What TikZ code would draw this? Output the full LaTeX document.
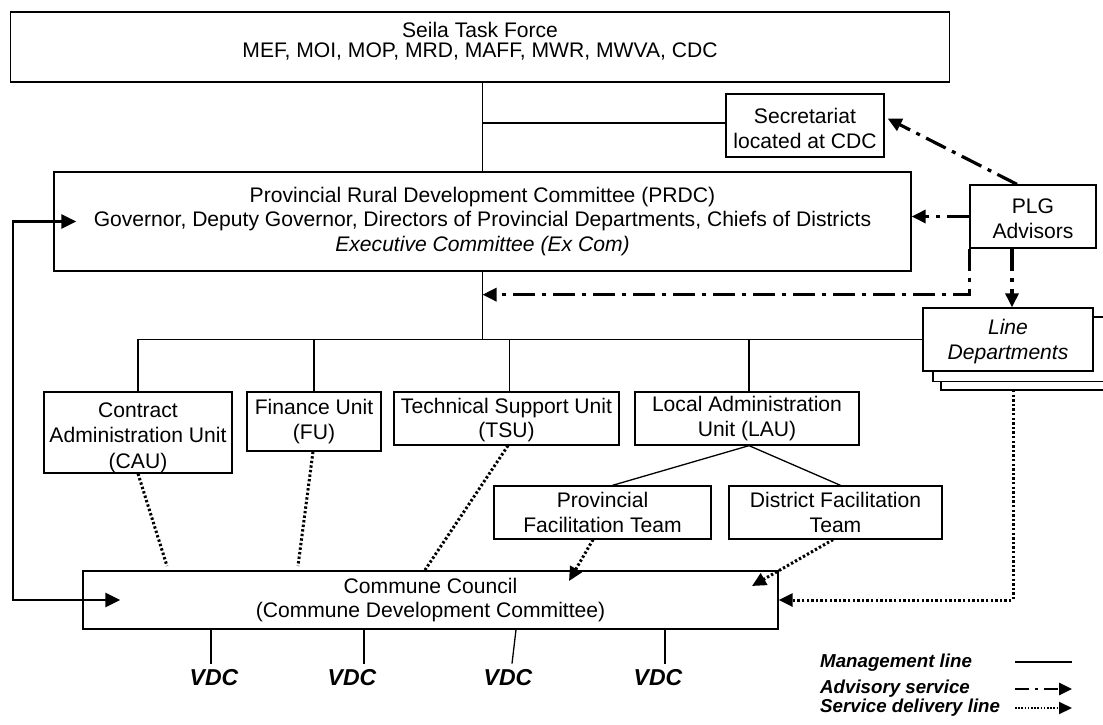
\documentclass[tikz,border=0pt]{standalone}
\usepackage{fontspec}
\setmainfont{Liberation Sans}
\usetikzlibrary{arrows.meta,calc}
\newcommand\dgfont{\fontsize{21.1}{24.5}\selectfont}
\newcommand\vdcfont{\fontsize{23}{26}\selectfont\bfseries\itshape}
\newcommand\lgfont{\fontsize{18.7}{20}\selectfont\bfseries\itshape}
\newcommand\lowerby[1]{\rule{0pt}{#1}}
\begin{document}
\begin{tikzpicture}[x=1pt,y=-1pt,
  box/.style={draw,line width=1.3pt,fill=white,align=center,inner sep=0pt,font=\dgfont},
  mgmt/.style={line width=1.3pt},
  tip/.style={-{Triangle[length=14pt,width=13pt]}},
  adv/.style={line width=3.2pt,dash pattern=on 22pt off 7pt on 4pt off 7pt,tip},
  svc/.style={line width=3pt,dash pattern=on 2.4pt off 2.2pt},
  svcarr/.style={svc,tip},
  mgarrow/.style={line width=2.8pt,{Triangle[length=15pt,width=14pt]}-{Triangle[length=15pt,width=14pt]}},
  vdc/.style={font=\vdcfont,inner sep=0pt},
  lgtext/.style={font=\lgfont,anchor=west,inner sep=0pt}]
\useasboundingbox (0,0) rectangle (1103,725);

% boxes
\node[box,minimum width=939,minimum height=70] (stf) at (480,47)
  {Seila Task Force\\[-4pt]MEF, MOI, MOP, MRD, MAFF, MWR, MWVA, CDC\rule[-14pt]{0pt}{14pt}};
\node[box,minimum width=158,minimum height=63] (sec) at (805,125.5)
  {\lowerby{21pt}Secretariat\\located at CDC};
\node[box,minimum width=857,minimum height=99] (prdc) at (482.5,221.5)
  {Provincial Rural Development Committee (PRDC)\\Governor, Deputy Governor, Directors of Provincial Departments, Chiefs of Districts\\\textit{Executive Committee (Ex Com)}};
\node[box,minimum width=126,minimum height=63] (plg) at (1033,216.5)
  {\lowerby{19pt}PLG\\Advisors};

\begin{scope}
\clip (0,0) rectangle (1103,725);
\draw[mgmt,fill=white] (941,325) rectangle (1120,390);
\draw[mgmt,fill=white] (933,317) rectangle (1120,381.5);
\end{scope}
\node[box,minimum width=170,minimum height=63,font=\dgfont\itshape] (ld) at (1008,339.5)
  {\lowerby{19pt}Line\\Departments};

\node[box,minimum width=188,minimum height=81] (cau) at (138,432.5)
  {\lowerby{25pt}Contract\\[1pt]Administration Unit\\[1pt](CAU)};
\node[box,minimum width=134,minimum height=59] (fu) at (314,421.5)
  {Finance Unit\\(FU)};
\node[box,minimum width=225,minimum height=53] (tsu) at (506.5,418.5)
  {\lowerby{18pt}Technical Support Unit\\(TSU)};
\node[box,minimum width=224,minimum height=53] (lau) at (747,418.5)
  {Local Administration\\Unit (LAU)};
\node[box,minimum width=217,minimum height=53] (pft) at (602.5,512.5)
  {Provincial\\Facilitation Team};
\node[box,minimum width=213,minimum height=53] (dft) at (835.5,512.5)
  {District Facilitation\\Team};
\node[box,minimum width=695,minimum height=58] (cc) at (430.5,600)
  {Commune Council\\(Commune Development Committee)};

\node[vdc] (v1) at (214,678) {VDC};
\node[vdc] (v2) at (352,678) {VDC};
\node[vdc] (v3) at (508,678) {VDC};
\node[vdc] (v4) at (658,678) {VDC};

% management lines
\draw[mgmt] (stf.south -| prdc.north) -- (prdc.north);
\draw[mgmt] ([yshift=2.5pt]sec.west -| prdc.north) -- ([yshift=2.5pt]sec.west);
\draw[mgmt] (prdc.south) -- (prdc.south |- ld.west);
\draw[mgmt] (cau.north) |- (ld.west);
\draw[mgmt] (fu.north) -- (fu.north |- ld.west);
\draw[mgmt] ([xshift=3pt]tsu.north) -- ([xshift=3pt]tsu.north |- ld.west);
\draw[mgmt] ([xshift=2pt]lau.north) -- ([xshift=2pt]lau.north |- ld.west);
\draw[mgmt] ([xshift=2pt]lau.south) -- ([xshift=10pt]pft.north);
\draw[mgmt] ([xshift=2pt]lau.south) -- ([xshift=5pt]dft.north);

\coordinate (c1) at (211,0);
\coordinate (c2) at (364,0);
\coordinate (c3) at (516,0);
\coordinate (c3b) at (512,0);
\coordinate (c4) at (665,0);
\draw[mgmt] (cc.south -| c1) -- ([yshift=6pt]v1.north -| c1);
\draw[mgmt] (cc.south -| c2) -- ([yshift=6pt]v2.north -| c2);
\draw[mgmt] (cc.south -| c3) -- ([yshift=6pt]v3.north -| c3b);
\draw[mgmt] (cc.south -| c4) -- ([yshift=6pt]v4.north -| c4);

% thick management arrow loop
\coordinate (loop) at (13,0);
\draw[mgarrow] ([xshift=23pt]prdc.west) -- (prdc.west -| loop) -- (cc.west -| loop) -- ([xshift=38pt]cc.west);

% advisory lines
\draw[adv] (plg.west) -- (prdc.east |- plg.west);
\draw[adv] ([xshift=-16pt]plg.north) -- ([xshift=3pt,yshift=7pt]sec.east);
\draw[adv] (plg.south west) |- ([yshift=-23pt]prdc.south);
\draw[adv] ([xshift=-21pt]plg.south) -- ([xshift=-21pt]plg.south |- ld.north);

% service delivery lines
\coordinate (e1) at (167,566);
\coordinate (e2) at (298,566);
\coordinate (e3) at (425,570);
\coordinate (e4) at (569,581);
\coordinate (e5) at (752,586);
\coordinate (ldb) at (1013,390);
\draw[svc] (cau.south) -- (e1);
\draw[svc] ([xshift=-1pt]fu.south) -- (e2);
\draw[svc] ([xshift=1.5pt]tsu.south) -- (e3);
\draw[svcarr] ([xshift=-9.5pt]pft.south) -- (e4);
\draw[svcarr] ([xshift=-2.5pt]dft.south) -- (e5);
\draw[svcarr] (ldb) |- (cc.east);

% legend
\node[lgtext] (lg1) at (820,663) {Management line};
\node[lgtext] (lg2) at (820,689) {Advisory service};
\node[lgtext] (lg3) at (820,708) {Service delivery line};
\coordinate (l1a) at (1015,662);
\coordinate (l1b) at (1072,662);
\coordinate (l2a) at (1015,689);
\coordinate (l2b) at (1072,689);
\coordinate (l3a) at (1015,708);
\coordinate (l3b) at (1072,708);
\draw[mgmt] (l1a) -- (l1b);
\draw[line width=2.6pt,dash pattern=on 14pt off 6pt on 3pt off 6pt,-{Triangle[length=13pt,width=12pt]}] (l2a) -- (l2b);
\draw[line width=2pt,dash pattern=on 1.6pt off 1.6pt,-{Triangle[length=13pt,width=12pt]}] (l3a) -- (l3b);
\end{tikzpicture}
\end{document}
